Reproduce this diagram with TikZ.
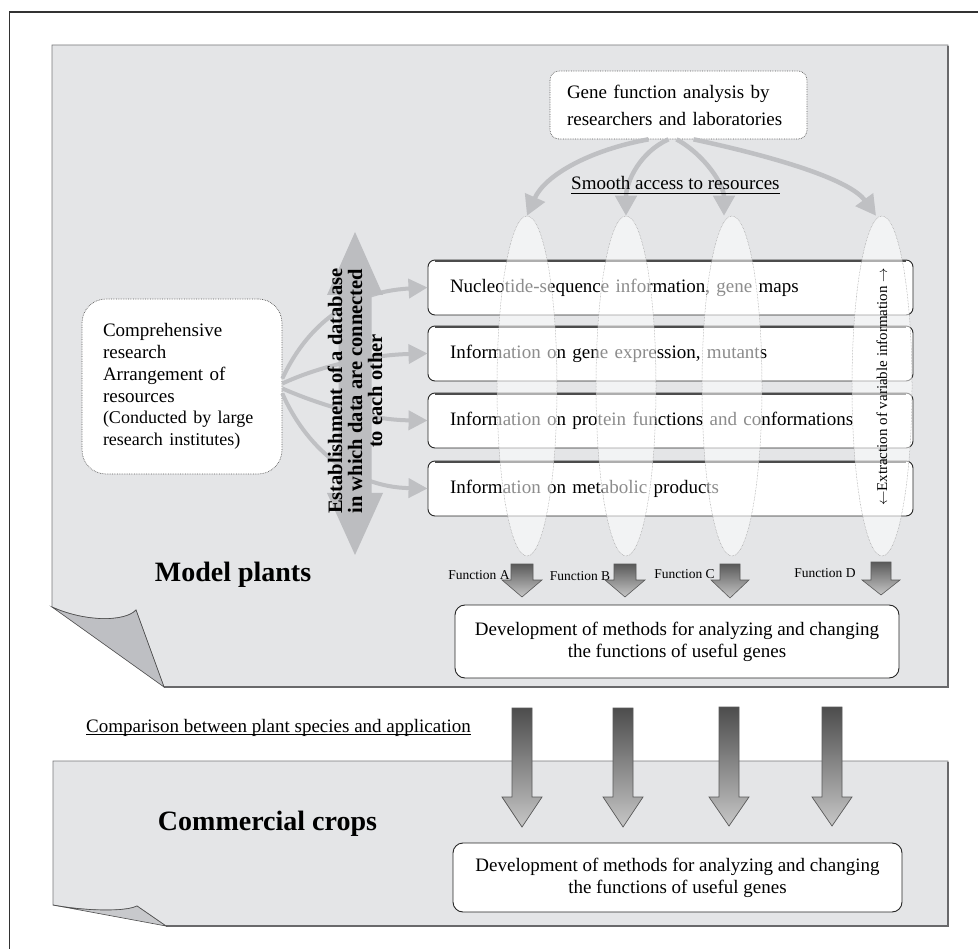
\documentclass[tikz,border=0pt]{standalone}
\usepackage{fontspec}
\setmainfont{Liberation Serif}
\usetikzlibrary{shapes.geometric,arrows.meta}

\definecolor{panelfill}{RGB}{228,229,231}
\definecolor{panelline}{RGB}{120,120,122}
\definecolor{panelshade}{RGB}{105,105,107}
\definecolor{curlfill}{RGB}{190,191,195}
\definecolor{curlfilltwo}{RGB}{200,201,204}
\definecolor{flowgray}{RGB}{191,192,195}
\definecolor{dbgray}{RGB}{188,189,192}
\definecolor{ovalline}{RGB}{150,150,150}
\definecolor{blkdark}{RGB}{90,90,90}
\definecolor{blklight}{RGB}{198,198,198}
\definecolor{frameline}{RGB}{50,50,50}

% downward block arrow: centre x, top y, head base y, tip y, half shaft, half head, style
\newcommand{\dnarrow}[7]{%
  \path[#7] ({#1-#5},#2) -- ({#1+#5},#2) -- ({#1+#5},#3) -- ({#1+#6},#3) -- (#1,#4)
    -- ({#1-#6},#3) -- ({#1-#5},#3) -- cycle;}

\begin{document}
\begin{tikzpicture}[x=1pt,y=-1pt,
  flowarrow/.style={draw=flowgray, line width=4.5pt, -{Triangle[length=20pt,width=21pt]}},
  fanarrow/.style={draw=flowgray, line width=4pt, -{Triangle[length=19pt,width=19pt]}},
  dotbox/.style={draw=black!65, densely dotted, line width=0.7pt, fill=white},
  rowbox/.style={draw=black!85, line width=0.9pt, fill=white, rounded corners=7pt,
    minimum width=485pt, minimum height=55pt, inner xsep=22pt, text width=441pt,
    align=left, font=\fontsize{19}{22}\selectfont},
  devbox/.style={draw=black!85, line width=0.9pt, fill=white, rounded corners=10pt,
    align=center, font=\fontsize{19}{22}\selectfont},
  oval/.style={ellipse, draw=ovalline, densely dotted, line width=0.5pt, fill=white,
    fill opacity=0.55, minimum width=60pt, minimum height=340pt, inner sep=0pt},
  funclabel/.style={font=\fontsize{13.5}{16}\selectfont, inner sep=0pt},
  smallblk/.style={draw=black!65, line width=0.6pt, top color=blkdark, bottom color=blklight},
  bigblk/.style={draw=black!65, line width=0.7pt, top color=blkdark!85!black, bottom color=blklight},
  ulabel/.style={font=\fontsize{19}{22}\selectfont, inner sep=0pt, anchor=base west},
  paneltitle/.style={font=\bfseries\fontsize{28}{32}\selectfont, inner sep=0pt, anchor=base}
]
\fill[white] (0,0) rectangle (978,949);
\useasboundingbox (0,0) rectangle (978,949);

% outer frame
\draw[frameline, line width=1.3pt] (9.5,949) -- (9.5,12) -- (978,12);

% ---------- upper sheet: model plants ----------
\path[fill=panelfill, draw=panelline, line width=0.8pt]
  (52,45) -- (948,45) -- (948,687) -- (164,687) -- (136,610)
  .. controls (125,622) and (85,622) .. (52,607) -- cycle;
\draw[panelshade, line width=1.6pt] (948,46) -- (948,687) -- (164,687);
\draw[fill=curlfill, draw=black!70, line width=0.6pt]
  (52,607) .. controls (85,622) and (125,622) .. (136,610) -- (164,687) -- cycle;

% ---------- lower sheet: commercial crops ----------
\path[fill=panelfill, draw=panelline, line width=0.8pt]
  (53,761) -- (948,761) -- (948,926) -- (166,926) -- (137,906)
  .. controls (125,912) and (85,911) .. (53,905) -- cycle;
\draw[panelshade, line width=1.6pt] (948,762) -- (948,926) -- (166,926);
\draw[fill=curlfilltwo, draw=black!70, line width=0.6pt]
  (53,905) .. controls (85,911) and (125,912) .. (137,906) -- (166,926) -- cycle;

% ---------- source boxes ----------
\node[dotbox, rounded corners=9pt, minimum width=257pt, minimum height=68pt,
  inner xsep=17pt, text width=223pt, align=left, font=\fontsize{19}{27}\selectfont]
  (gene) at (678.5,105) {Gene function analysis by\\researchers and laboratories};

\node[dotbox, rounded corners=24pt, minimum width=200pt, minimum height=175pt,
  inner xsep=21pt, text width=158pt, align=left, font=\fontsize{19}{22}\selectfont]
  (lb) at (182,386.5) {Comprehensive\\research\\Arrangement of\\resources\\
  \fontsize{18}{21.5}\selectfont(Conducted by large\\research institutes)};

% ---------- information rows ----------
\node[rowbox] (r1) at (670.5,287.5) {Nucleotide-sequence information, gene maps};
\node[rowbox] (r2) at (670.5,353.5) {Information on gene expression, mutants};
\node[rowbox] (r3) at (670.5,420.5) {Information on protein functions and conformations};
\node[rowbox] (r4) at (670.5,488.5) {Information on metabolic products};
\foreach \r in {r1,r2,r3,r4}
  \draw[black!70, line width=2pt] ([xshift=7pt,yshift=-1pt]\r.north west)
    -- ([xshift=-7pt,yshift=-1pt]\r.north east);

% fan of links from the research institutes to the rows
\draw[fanarrow] ([yshift=8pt]lb.east) .. controls (305,330) and (345,292) .. (r1.west);
\draw[fanarrow] ([yshift=3pt]lb.east) .. controls (320,366) and (370,355) .. (r2.west);
\draw[fanarrow] ([yshift=-2pt]lb.east) .. controls (320,405) and (370,420) .. (r3.west);
\draw[fanarrow] ([yshift=-7pt]lb.east) .. controls (305,445) and (350,487) .. (r4.west);

% database double arrow with its caption
\fill[dbgray] (355,232) -- (383,295) -- (371.5,295) -- (371.5,493) -- (383,493)
  -- (355,555) -- (327,493) -- (338.5,493) -- (338.5,295) -- (327,295) -- cycle;
\node[rotate=90, align=center, font=\bfseries\fontsize{20.5}{20}\selectfont, inner sep=0pt]
  (db) at (355,391) {Establishment of a database\\in which data are connected\\to each other};

% ---------- function columns ----------
\node[oval] (e1) at (527,386) {};
\node[oval] (e2) at (626,386) {};
\node[oval] (e3) at (732,386) {};
\node[oval] (e4) at (882,386) {};
\node[rotate=90, font=\fontsize{15}{18}\selectfont, inner sep=0pt] (xtr) at (882,387)
  {$\leftarrow$Extraction of variable information $\rightarrow$};

% access arrows from the laboratories
\draw[flowarrow] ([xshift=-30pt]gene.south) .. controls (590,150) and (545,175) .. (e1.north);
\draw[flowarrow] ([xshift=-10pt]gene.south) .. controls (640,152) and (626,182) .. (e2.north);
\draw[flowarrow] ([xshift=-2pt]gene.south) .. controls (705,155) and (724,185) .. ([xshift=-8pt]e3.north);
\draw[flowarrow] ([xshift=15pt]gene.south) .. controls (780,158) and (850,180) .. ([xshift=-6pt]e4.north);

% caption over the access arrows
\node[ulabel] (smooth) at (571,190) {Smooth access to resources};
\draw[line width=0.8pt] ([yshift=-3pt]smooth.base west) -- ([yshift=-3pt]smooth.base east);

% function outputs
\node[funclabel] (fa) at (479,575) {Function A};
\node[funclabel] (fb) at (580,576) {Function B};
\node[funclabel] (fc) at (684.5,574) {Function C};
\node[funclabel] (fd) at (825,573) {Function D};
\dnarrow{522}{564}{580}{597}{11}{20}{smallblk}
\dnarrow{625}{564}{580}{597}{11}{20}{smallblk}
\dnarrow{730}{564}{580}{598}{10}{19}{smallblk}
\dnarrow{881}{562}{580}{595}{10}{19}{smallblk}

\node[devbox, minimum width=444pt, minimum height=73pt] (dev1) at (677,641.5)
  {Development of methods for analyzing and changing\\the functions of useful genes};

\node[paneltitle] (mp) at (233,581) {Model plants};

% ---------- transfer to crops ----------
\node[ulabel] (cmp) at (86,732) {Comparison between plant species and application};
\draw[line width=0.8pt] ([yshift=-2.5pt]cmp.base west) -- ([yshift=-2.5pt]cmp.base east);

\dnarrow{522}{708}{797}{827}{10}{20}{bigblk}
\dnarrow{623}{708}{797}{827}{10}{20}{bigblk}
\dnarrow{729}{707}{797}{826}{10}{20}{bigblk}
\dnarrow{832}{707}{797}{826}{10}{20}{bigblk}

\node[paneltitle] (cc) at (267.5,830) {Commercial crops};
\node[devbox, minimum width=449pt, minimum height=69pt] (dev2) at (677.5,877.5)
  {Development of methods for analyzing and changing\\the functions of useful genes};
\end{tikzpicture}
\end{document}
